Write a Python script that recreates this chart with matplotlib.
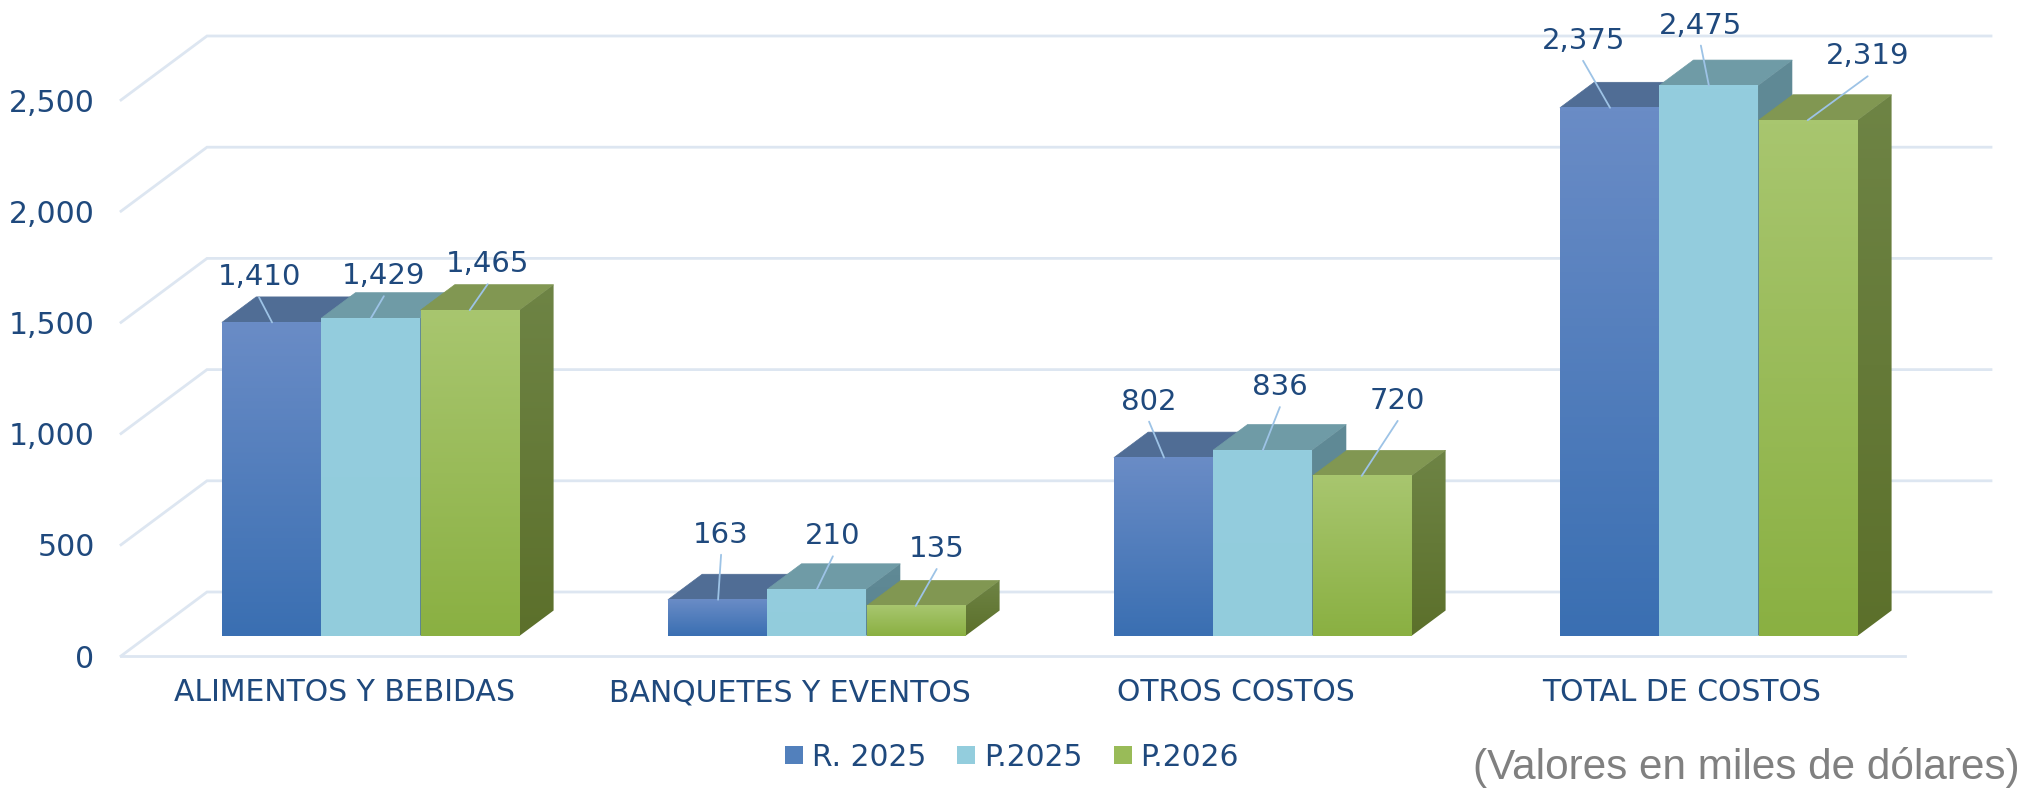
# costos por categoria, barras con efecto 3d
import numpy as np
import matplotlib
matplotlib.use('Agg')
import matplotlib.pyplot as plt
from matplotlib.patches import Polygon, Patch

categories = ['ALIMENTOS Y BEBIDAS', 'BANQUETES Y EVENTOS', 'OTROS COSTOS', 'TOTAL DE COSTOS']
series_names = ['R. 2025', 'P.2025', 'P.2026']
r_2025 = [1410, 163, 802, 2375]
p_2025 = [1429, 210, 836, 2475]
p_2026 = [1465, 135, 720, 2319]
y_ticks = [0, 500, 1000, 1500, 2000, 2500]

# leader start relative to the bar top, in pixels
label_dx = [[-13, 13, 18], [3, 16, 21], [-15, 17, 36], [-27, -8, 60]]
label_dy = [[25, 22, 26], [45, 33, 37], [36, 43, 55], [47, 40, 44]]

text_color = '#1f497d'
grid_color = '#dde6f1'
leader_color = '#9dc3e6'
# front top, front bottom, top face, side top, side bottom
styles = [
    ('#6a8cc6', '#3a6fb2', '#506d95', '#4a6688', '#3f5a7c'),
    ('#94cdde', '#92ccdc', '#6f9ba6', '#608a96', '#5a8490'),
    ('#a8c66f', '#8ab042', '#819752', '#6e8445', '#5c702b'),
]

W, H = 2022, 788
PX = 0.2224            # pixels per value unit
DX = 86 / 446.0        # floor depth in category units
DY = 64 / PX           # floor depth in value units
Z0 = 20 / 64.0         # front of the bars on the floor
Z1 = 45.5 / 64.0       # back of the bars
BAR_W = 98.8 / 446.0


def hex_rgb(c):
    return np.array(matplotlib.colors.to_rgb(c))


def gradient(top, bottom):
    t = np.linspace(0, 1, 128)[:, None, None]
    return hex_rgb(top)[None, None, :] * (1 - t) + hex_rgb(bottom)[None, None, :] * t


def draw_bar(ax, x0, x1, v, style, z):
    front_top, front_bot, top_c, side_top, side_bot = style
    f = lambda x, y, d: (x + d * DX, y + d * DY)
    # top face
    top = [f(x0, v, Z0), f(x1, v, Z0), f(x1, v, Z1), f(x0, v, Z1)]
    ax.add_patch(Polygon(top, closed=True, fc=top_c, ec=top_c, lw=0.5, zorder=z))
    # side face
    side = [f(x1, 0, Z0), f(x1, v, Z0), f(x1, v, Z1), f(x1, 0, Z1)]
    clip = Polygon(side, closed=True, transform=ax.transData)
    im = ax.imshow(gradient(side_top, side_bot), aspect='auto', zorder=z + 0.1,
                   extent=(f(x1, 0, Z0)[0], f(x1, 0, Z1)[0], f(x1, 0, Z0)[1], f(x1, v, Z1)[1]))
    im.set_clip_path(clip)
    # front face
    bl = f(x0, 0, Z0)
    tr = f(x1, v, Z0)
    ax.imshow(gradient(front_top, front_bot), aspect='auto', zorder=z + 0.2,
              extent=(bl[0], tr[0], bl[1], tr[1]))


def main():
    fig = plt.figure(figsize=(W / 100.0, H / 100.0), dpi=100, facecolor='white')
    ax = fig.add_axes([121.0 / W, (H - 656.0) / H, 1871.0 / W, 621.0 / H])
    ax.set_facecolor('white')

    # back wall and floor grid
    for t in y_ticks:
        ax.plot([-0.5, -0.5 + DX, 3.5 + DX], [t, t + DY, t + DY], color=grid_color,
                lw=2.0, clip_on=False, zorder=1, solid_joinstyle='miter')
    ax.plot([-0.5, 3.5], [0, 0], color=grid_color, lw=2.0, clip_on=False, zorder=1)

    series = [r_2025, p_2025, p_2026]
    z = 5
    for i in range(len(categories)):
        for j, vals in enumerate(series):
            x0 = i + (j - 1.5) * 99.3 / 446.0
            draw_bar(ax, x0, x0 + BAR_W, vals[i], styles[j], z)
            z += 1

    # value labels with their leaders
    for i in range(len(categories)):
        for j, vals in enumerate(series):
            xc = i + (j - 1) * BAR_W + Z0 * DX
            yv = vals[i] + Z0 * DY
            dx, dy = label_dx[i][j], label_dy[i][j]
            ax.annotate('', xy=(xc, yv), xytext=(dx, dy), textcoords='offset pixels',
                        arrowprops=dict(arrowstyle='-', color=leader_color, lw=1.3,
                                        shrinkA=0, shrinkB=0), zorder=200)
            ax.annotate('{:,}'.format(vals[i]), xy=(xc, yv), xytext=(dx, dy + 20),
                        textcoords='offset pixels', ha='center', va='center',
                        fontsize=21, color=text_color, zorder=201)

    ax.set_xlim(-0.5, -0.5 + 1871.0 / 446)
    ax.set_ylim(0, 621.0 / PX)
    ax.set_xticks(range(len(categories)))
    ax.set_xticklabels(categories, fontsize=21.5, color=text_color)
    ax.set_yticks(y_ticks)
    ax.set_yticklabels(['{:,}'.format(t) for t in y_ticks], fontsize=21.5, color=text_color)
    ax.tick_params(axis='x', length=0, pad=16)
    ax.tick_params(axis='y', length=0, pad=19)
    for s in ax.spines.values():
        s.set_visible(False)

    handles = [Patch(fc=c, ec='none') for c in ['#5280bc', '#93cddd', '#99bb58']]
    fig.legend(handles, series_names, loc='center', bbox_to_anchor=(1012.0 / W, 1 - 757.0 / H),
               ncol=3, frameon=False, fontsize=21.4, labelcolor=text_color,
               handlelength=0.6, handleheight=0.6, handletextpad=0.3, columnspacing=1.05)

    fig.text(2020.0 / W, 1 - 768.0 / H, '(Valores en miles de dólares)', ha='right', va='center',
             fontsize=30.4, color='#808080', family='Liberation Sans')

    fig.savefig('out.png', dpi=100)


if __name__ == '__main__':
    main()
